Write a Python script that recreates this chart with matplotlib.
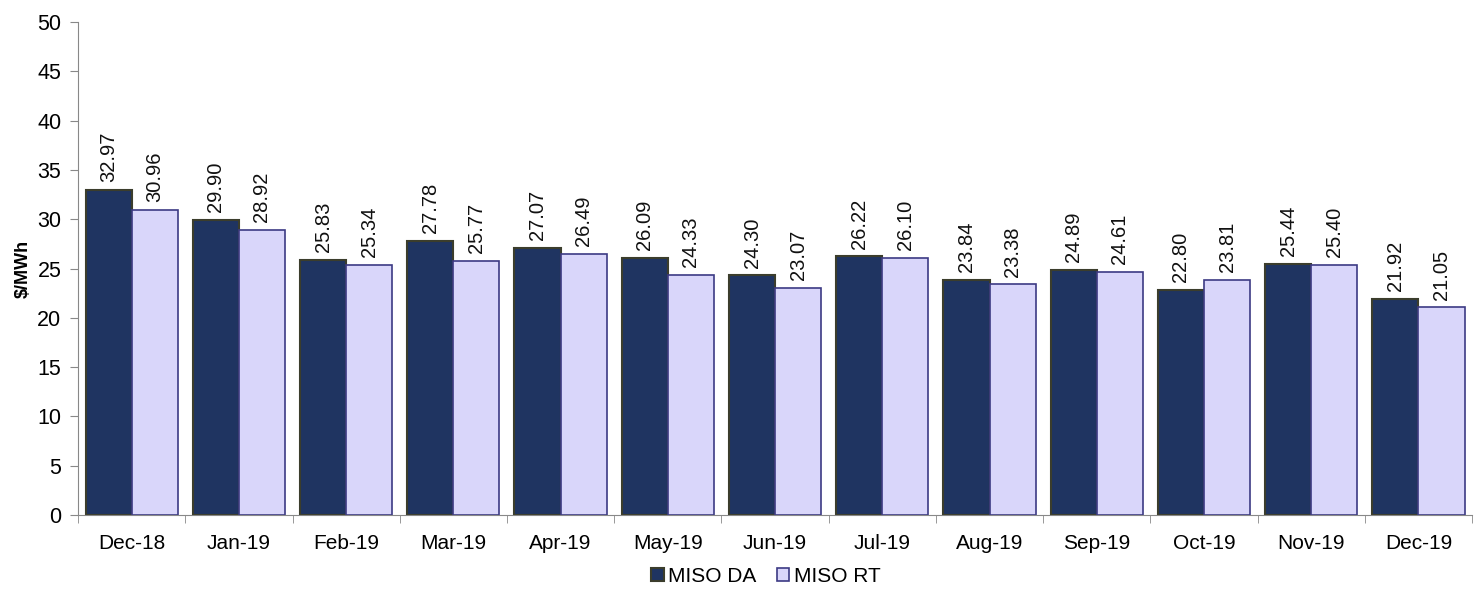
import numpy as np
import matplotlib.pyplot as plt

months = ["Dec-18", "Jan-19", "Feb-19", "Mar-19", "Apr-19", "May-19", "Jun-19",
          "Jul-19", "Aug-19", "Sep-19", "Oct-19", "Nov-19", "Dec-19"]
miso_da = [32.97, 29.90, 25.83, 27.78, 27.07, 26.09, 24.30, 26.22, 23.84, 24.89, 22.80, 25.44, 21.92]
miso_rt = [30.96, 28.92, 25.34, 25.77, 26.49, 24.33, 23.07, 26.10, 23.38, 24.61, 23.81, 25.40, 21.05]

plt.rcParams['font.family'] = ['Liberation Sans', 'DejaVu Sans']

fig = plt.figure(figsize=(14.81, 5.89), dpi=100)
ax = fig.add_axes([0.0527, 0.1256, 0.9413, 0.837])

x = np.arange(len(months))
w = 0.43
b1 = ax.bar(x - w / 2, miso_da, w, color="#1f3461", edgecolor="#3b3d2c", linewidth=1.5, label="MISO DA")
b2 = ax.bar(x + w / 2, miso_rt, w, color="#d9d6fa", edgecolor="#3c3a84", linewidth=1.2, label="MISO RT")

for bars, vals in ((b1, miso_da), (b2, miso_rt)):
    for r, v in zip(bars, vals):
        ax.text(r.get_x() + r.get_width() / 2, v + 0.8, f"{v:.2f}", rotation=90,
                ha="center", va="bottom", fontsize=14.5, color="#111111")

ax.set_xlim(-0.5, len(months) - 0.5)
ax.set_ylim(0, 50)
ax.set_yticks(range(0, 51, 5))
ax.set_xticks(x)
ax.set_xticklabels(months, fontsize=15)
ax.set_xticks(np.arange(-0.5, len(months), 1), minor=True)
ax.tick_params(axis="x", which="major", length=0, pad=14)
ax.tick_params(axis="x", which="minor", length=6, color="#888888", direction="out")
ax.tick_params(axis="y", labelsize=15.5, length=6, color="#888888", pad=6)
for s in ("top", "right"):
    ax.spines[s].set_visible(False)
for s in ("left", "bottom"):
    ax.spines[s].set_color("#888888")
ax.set_ylabel("$/MWh", fontsize=13, fontweight="bold", labelpad=4)

fig.legend(handles=[b1, b2], loc="center", bbox_to_anchor=(0.517, 0.021), ncol=2, frameon=False,
           fontsize=15, handlelength=0.6, handleheight=0.6, handletextpad=0.2, columnspacing=1.0,
           borderaxespad=0, borderpad=0)

fig.savefig("out.png", dpi=100)
